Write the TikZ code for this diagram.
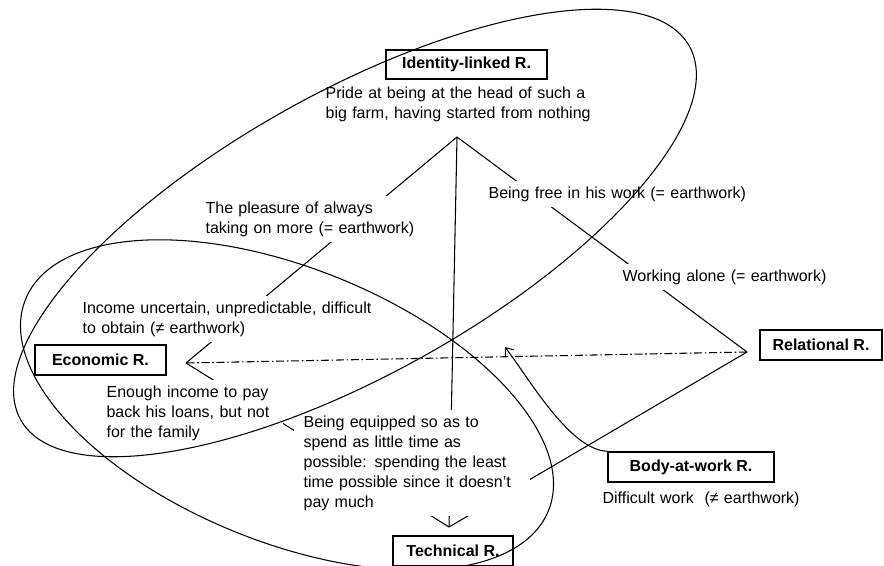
\documentclass[tikz,border=0pt]{standalone}
\usepackage{fontspec}
\setmainfont{Liberation Sans}
\usetikzlibrary{arrows.meta}

\begin{document}
\begin{tikzpicture}[
    x=0.75pt, y=-0.75pt,
    % Define styles
    relbox/.style={
        rectangle,
        draw,
        line width=1.1pt,
        fill=white,
        font=\fontsize{12}{15}\selectfont\bfseries,
        minimum height=22.5pt,
        inner sep=0pt
    },
    remark/.style={
        rectangle,
        fill=white,
        anchor=north west,
        align=left,
        inner xsep=7pt,
        inner ysep=4pt,
        font=\fontsize{12}{15}\selectfont
    },
    link/.style={line width=0.8pt},
    crossline/.style={line width=0.8pt, dash pattern=on 6pt off 2pt on 1.2pt off 2pt},
    field/.style={line width=0.8pt},
    effect/.style={line width=0.8pt, -{Straight Barb[length=5pt,width=8pt]}}
]

\path[use as bounding box] (0,0) rectangle (884,566);
\clip (0,0) rectangle (884,566);

% Meeting points of the relations
\coordinate (idp) at (457,137);
\coordinate (ecp) at (186,363);
\coordinate (rep) at (747,352);
\coordinate (tep) at (449,527);
\coordinate (hit) at (505,347);

% Links between relations
\draw[link] (idp) -- (ecp);
\draw[link] (idp) -- (tep);
\draw[link] (idp) -- (rep);
\draw[link] (ecp) -- (tep);
\draw[link] (rep) -- (tep);
\draw[crossline] (rep) -- (ecp);

% Comments on the links
\node[remark, text width=202pt] (pride) at (316,81) {Pride at being at the head of such a\\big farm, having started from nothing};
\node[remark, text width=161pt] (pleasure) at (196,196) {The pleasure of always\\taking on more (= earthwork)};
\node[remark, text width=225pt] (income) at (73,296) {Income uncertain, unpredictable, difficult\\to obtain (≠ earthwork)};
\node[remark, text width=125pt] (enough) at (97,380) {Enough income to pay\\back his loans, but not\\for the family};
\node[remark, text width=196pt] (freework) at (479,181) {Being free in his work (= earthwork)};
\node[remark, text width=154pt] (alone) at (613,264) {Working alone (= earthwork)};
\node[remark, text width=163pt] (equipped) at (294,410) {Being equipped so as to\\spend as little time as\\possible: spending the least\\time possible since it doesn't\\pay much};
\node[remark, text width=161pt] (difficult) at (593,486) {Difficult work~ (≠ earthwork)};

% Relations
\node[relbox, minimum width=120.75pt, minimum height=22pt] (identity) at (466.5,64.5) {Identity-linked R.};
\node[relbox, minimum width=98pt] (economic) at (100.5,360) {Economic R.};
\node[relbox, minimum width=91.5pt] (relational) at (821,345) {Relational R.};
\node[relbox, minimum width=90pt] (technical) at (453,551) {Technical R.};
\node[relbox, minimum width=124.5pt] (body) at (691,467) {Body-at-work R.};

% Fields
\draw[field, rotate around={29.2:(355,233)}] (355,233) ellipse [x radius=383, y radius=141];
\draw[field, rotate around={-22:(287,405)}] (287,405) ellipse [x radius=282, y radius=137];

% Body acting on the link
\draw[effect] (body.north west) .. controls (570,450) and (530,380) .. (hit);

\end{tikzpicture}
\end{document}
